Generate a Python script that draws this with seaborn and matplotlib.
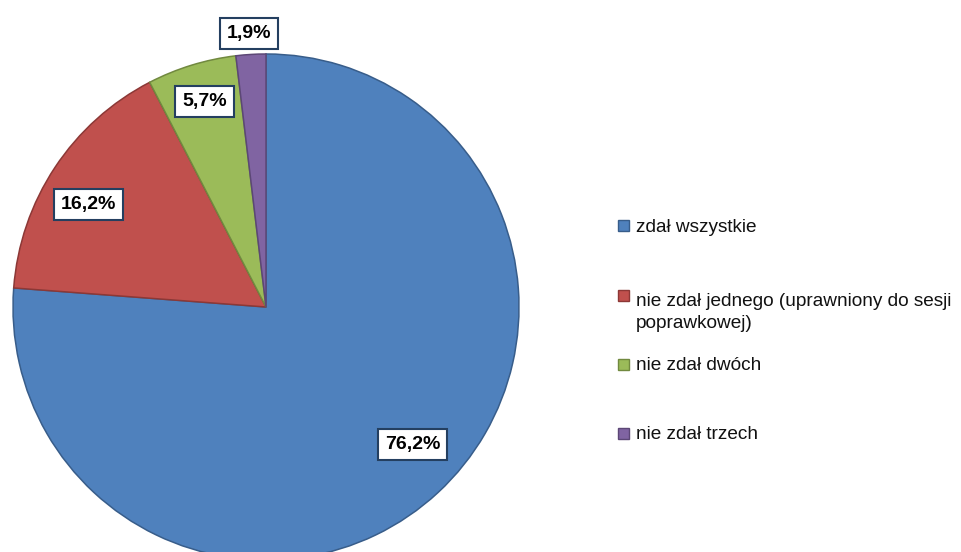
import matplotlib
matplotlib.use("Agg")
import matplotlib.pyplot as plt
import matplotlib.patches as mpatches
import numpy as np
import seaborn as sns

# data
categories = ["zdał wszystkie",
              "nie zdał jednego (uprawniony do sesji\npoprawkowej)",
              "nie zdał dwóch",
              "nie zdał trzech"]
shares = [76.2, 16.2, 5.7, 1.9]

colors = ["#4F81BD", "#C0504D", "#9BBB59", "#8064A2"]
edge_colors = ["#385D8A", "#8C3836", "#71893F", "#5C4776"]

# label placement: distance from centre (fraction of radius), angle shift (deg)
label_r = [0.795, 0.81, 0.85, 1.083]
label_shift = [3.9, 3.5, -0.4, 0.1]

sns.set_theme(style="white")
plt.rcParams["font.family"] = ["Liberation Sans", "DejaVu Sans"]

W, H = 962, 552
fig = plt.figure(figsize=(W / 100, H / 100), dpi=100)


def px(x, y):
    return x / W, 1 - y / H


# pie centre (266, 307) px, radius 253 px
cx, cy, r = 266, 307, 253
ax = fig.add_axes([(cx - r) / W, (H - cy - r) / H, 2 * r / W, 2 * r / H])

wedges, _ = ax.pie(shares, colors=colors, startangle=90, counterclock=False,
                   wedgeprops=dict(linewidth=1.1))
for w, ec in zip(wedges, edge_colors):
    w.set_edgecolor(ec)
ax.set_xlim(-1, 1)
ax.set_ylim(-1, 1)
ax.set_aspect("equal")
ax.axis("off")

# percentage labels in boxes
for w, v, rr, sh in zip(wedges, shares, label_r, label_shift):
    ang = np.deg2rad((w.theta1 + w.theta2) / 2 + sh)
    ax.text(rr * np.cos(ang), rr * np.sin(ang),
            f"{v:.1f}%".replace(".", ","),
            ha="center", va="center", fontsize=14, fontweight="bold",
            color="black", zorder=5, clip_on=False,
            bbox=dict(boxstyle="square,pad=0.36", facecolor="white",
                      edgecolor="#243F60", linewidth=1.5))

# legend (Excel-like uneven spacing)
square_y = [225, 295, 364, 433]
baselines = [232, 328, 370, 439]   # baseline of the last line of each label
sq = 11
for lab, col, ec, ys, yb in zip(categories, colors, edge_colors, square_y, baselines):
    x0, y0 = px(618, ys + sq / 2)
    fig.patches.append(mpatches.Rectangle((x0, y0), sq / W, sq / H,
                                          transform=fig.transFigure,
                                          facecolor=col, edgecolor=ec,
                                          linewidth=1.0))
    tx, ty = px(636, yb)
    fig.text(tx, ty, lab, ha="left", va="baseline", fontsize=13.7,
             color="#111111", linespacing=1.42)

fig.savefig("out.png", dpi=100)
